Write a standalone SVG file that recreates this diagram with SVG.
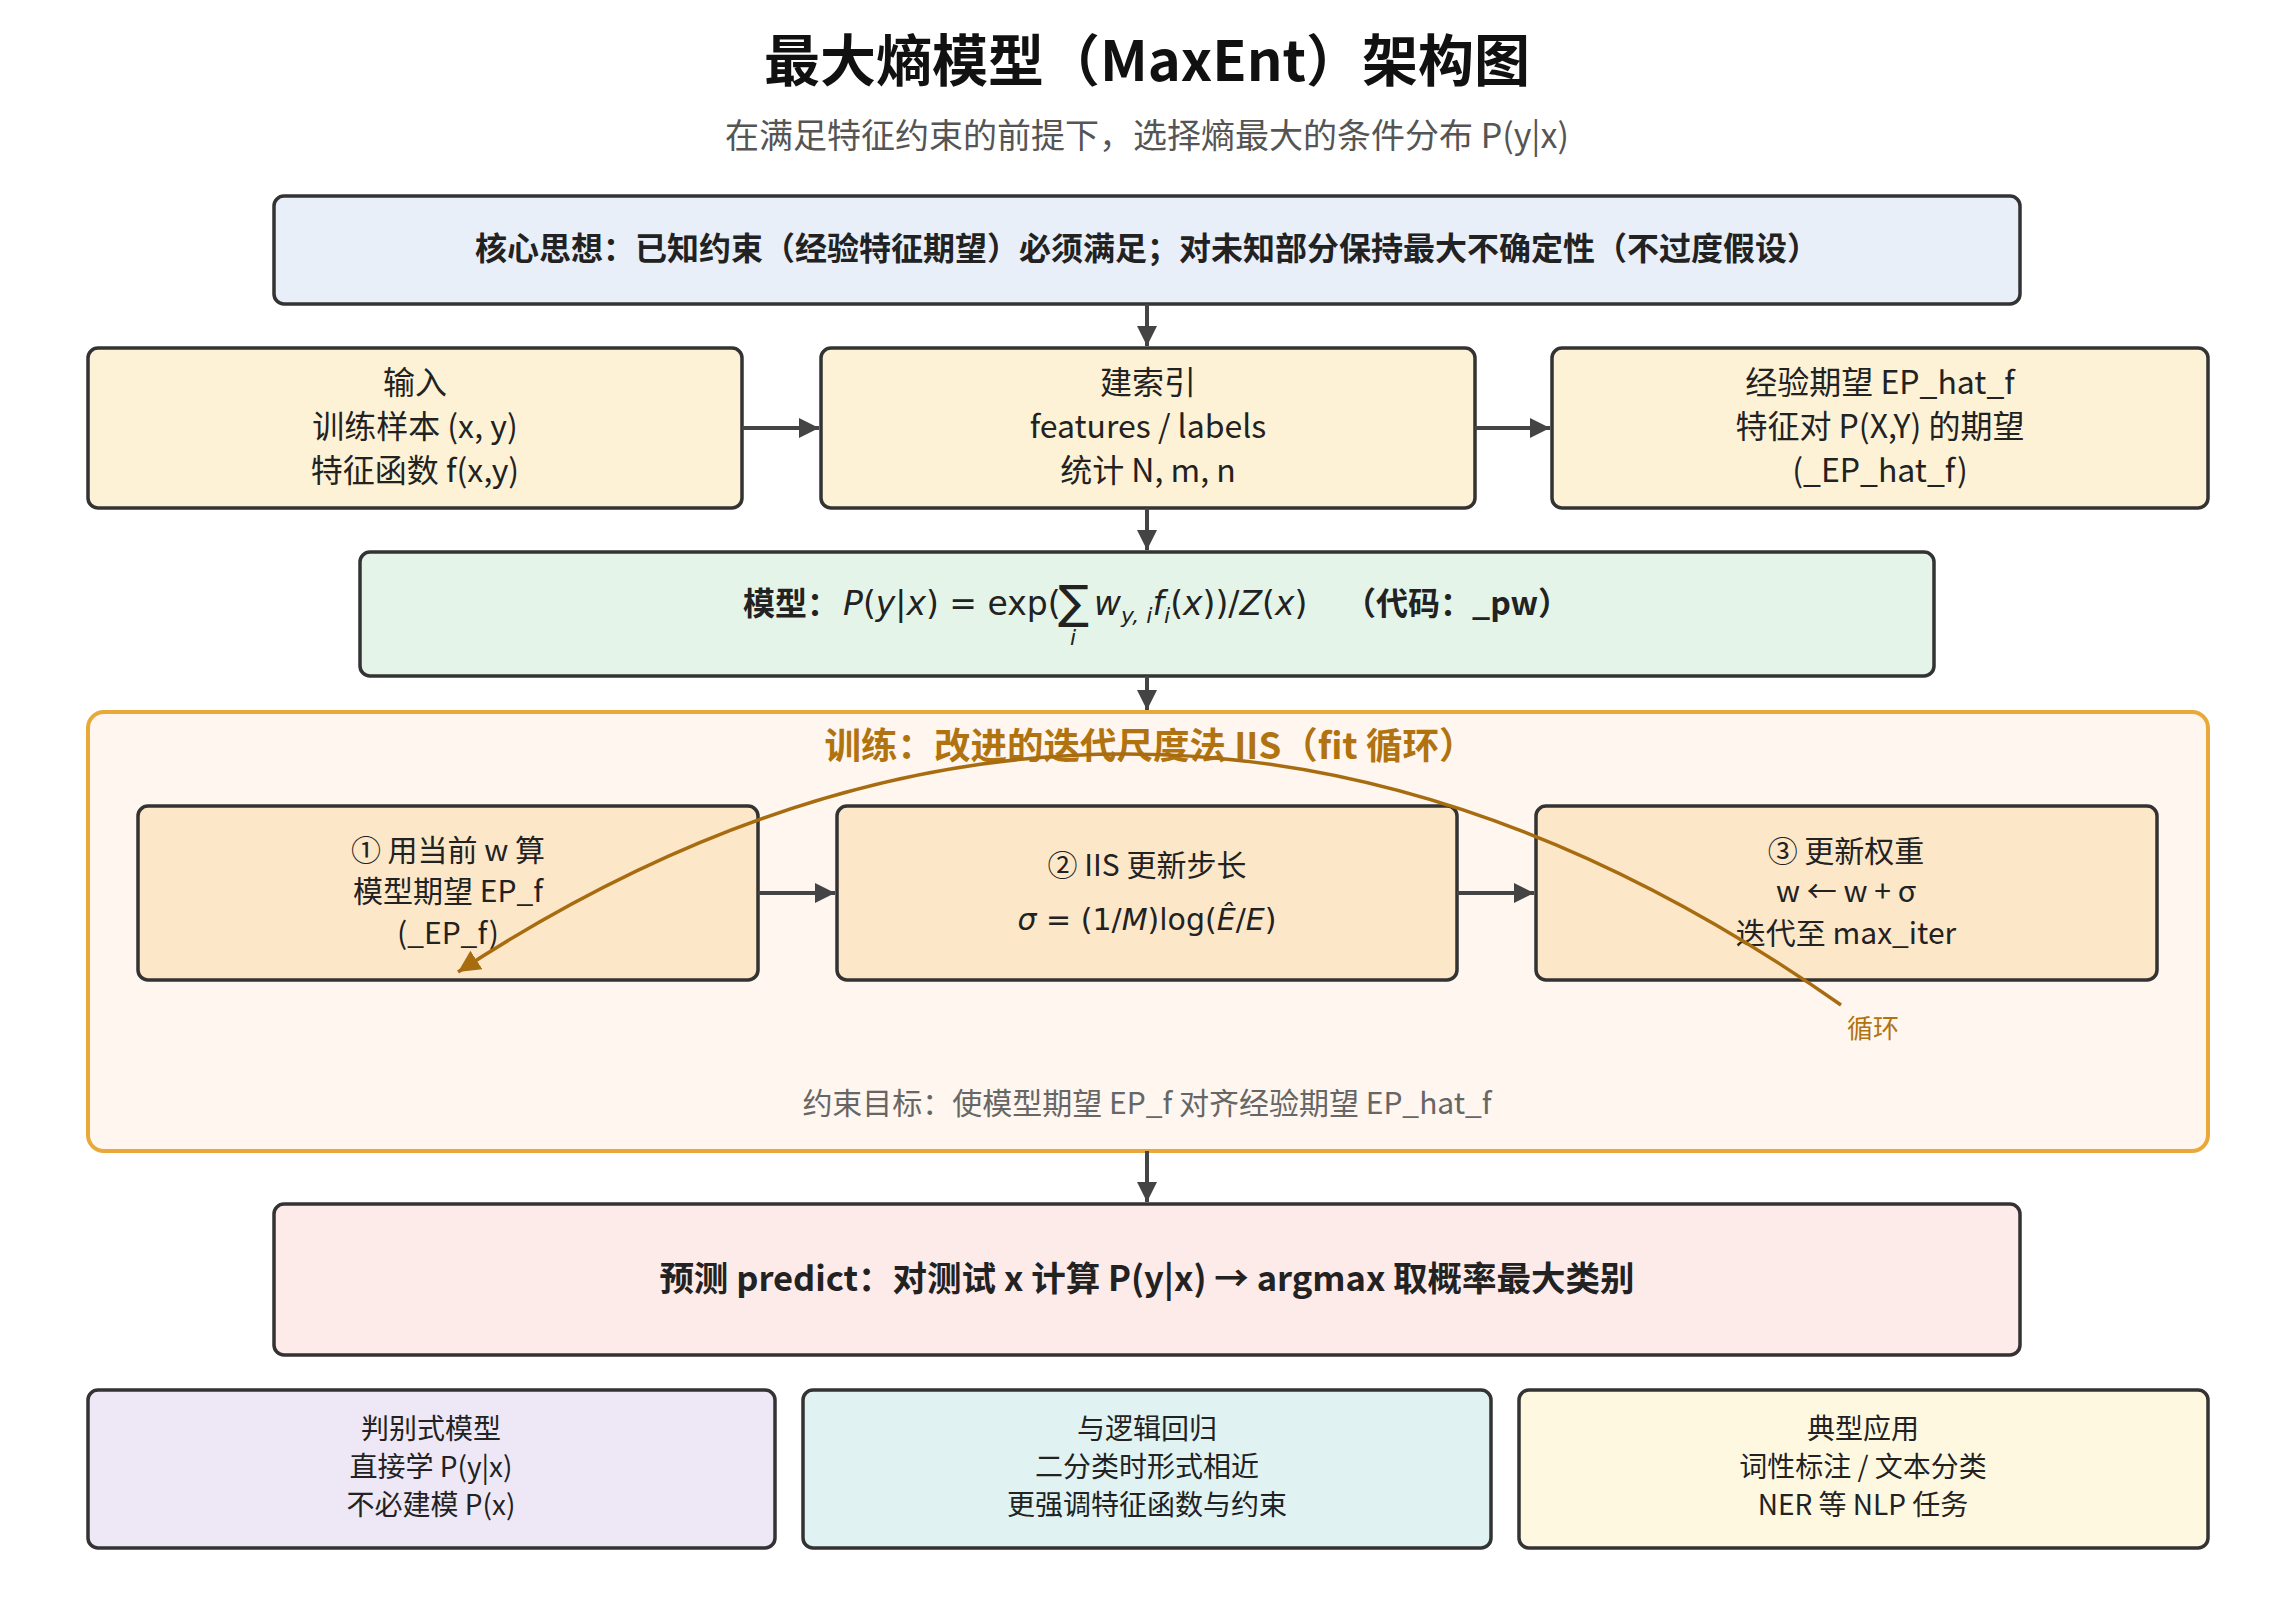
<svg xmlns="http://www.w3.org/2000/svg" width="2294" height="1602" viewBox="0 0 2294 1602">
<defs>
<style>
text{font-family:"Noto Sans CJK SC","Noto Sans",sans-serif;fill:#222}
.title{font-size:56px;font-weight:700;fill:#111}
.sub{font-size:34px;fill:#555}
.box{stroke:#333;stroke-width:3.5}
.b32{font-size:32px}
.bold{font-weight:700}
.s30{font-size:30px}
.s28{font-size:28px}
.math{font-family:"DejaVu Sans",sans-serif}
.it{font-style:italic}
.conn{stroke:#444;stroke-width:4;fill:none}
</style>
<marker id="ah" viewBox="0 0 10 10" refX="10" refY="5" markerWidth="20" markerHeight="20" markerUnits="userSpaceOnUse" orient="auto">
<path d="M0,0 L10,5 L0,10 z" fill="#444"/>
</marker>
<marker id="ahb" viewBox="0 0 10 10" refX="10" refY="5" markerWidth="22" markerHeight="22" markerUnits="userSpaceOnUse" orient="auto">
<path d="M0,0 L10,5 L0,10 z" fill="#A86C10"/>
</marker>
</defs>
<rect width="2294" height="1602" fill="#ffffff"/>

<g id="header">
<text class="title" x="1147" y="81" text-anchor="middle">最大熵模型（MaxEnt）架构图</text>
<text class="sub" x="1147" y="148" text-anchor="middle">在满足特征约束的前提下，选择熵最大的条件分布 P(y|x)</text>
</g>

<g id="core">
<rect class="box" x="274" y="196" width="1746" height="108" rx="10" fill="#E8EFF9"/>
<text class="b32 bold" x="1147" y="260" text-anchor="middle">核心思想：已知约束（经验特征期望）必须满足；对未知部分保持最大不确定性（不过度假设）</text>
</g>

<g id="input">
<rect class="box" x="88" y="348" width="654" height="160" rx="10" fill="#FDF2D6"/>
<text class="b32" x="415" y="394" text-anchor="middle">输入</text>
<text class="b32" x="415" y="438" text-anchor="middle">训练样本 (x, y)</text>
<text class="b32" x="415" y="482" text-anchor="middle">特征函数 f(x,y)</text>
</g>

<g id="index">
<rect class="box" x="821" y="348" width="654" height="160" rx="10" fill="#FDF2D6"/>
<text class="b32" x="1148" y="394" text-anchor="middle">建索引</text>
<text class="b32" x="1148" y="438" text-anchor="middle">features / labels</text>
<text class="b32" x="1148" y="482" text-anchor="middle">统计 N, m, n</text>
</g>

<g id="empirical">
<rect class="box" x="1552" y="348" width="656" height="160" rx="10" fill="#FDF2D6"/>
<text class="b32" x="1880" y="394" text-anchor="middle">经验期望 EP_hat_f</text>
<text class="b32" x="1880" y="438" text-anchor="middle">特征对 P(X,Y) 的期望</text>
<text class="b32" x="1880" y="482" text-anchor="middle">(_EP_hat_f)</text>
</g>

<g id="model">
<rect class="box" x="360" y="552" width="1574" height="124" rx="10" fill="#E5F4E8"/>
<text class="b32 bold" x="743" y="615">模型：</text>
<text class="math" font-size="33" x="843" y="615"><tspan class="it">P</tspan>(<tspan class="it">y</tspan>|<tspan class="it">x</tspan>) = exp(</text>
<text class="math" font-size="46" x="1058" y="618">∑</text>
<text class="math it" font-size="22" x="1070" y="645">i</text>
<text class="math" font-size="33" x="1094" y="615"><tspan class="it">w</tspan><tspan class="it" font-size="22" dy="8">y, i</tspan><tspan class="it" dy="-8">f</tspan><tspan class="it" font-size="22" dy="8">i</tspan><tspan dy="-8">(</tspan><tspan class="it">x</tspan>))/<tspan class="it">Z</tspan>(<tspan class="it">x</tspan>)</text>
<text class="b32 bold" x="1344" y="615">（代码：_pw）</text>
</g>

<g id="training">
<rect x="88" y="712" width="2120" height="439" rx="16" fill="#FEF6EF" stroke="#E8A93A" stroke-width="4"/>
<text x="1150" y="759" text-anchor="middle" font-size="36.5" font-weight="700" style="fill:#B0730F">训练：改进的迭代尺度法 IIS（fit 循环）</text>
<text class="s30" x="1147" y="1114" text-anchor="middle" style="fill:#666">约束目标：使模型期望 EP_f 对齐经验期望 EP_hat_f</text>
</g>

<g id="step1">
<rect class="box" x="138" y="806" width="620" height="174" rx="10" fill="#FDE7C9"/>
<text class="s30" x="448" y="861" text-anchor="middle">① 用当前 w 算</text>
<text class="s30" x="448" y="902" text-anchor="middle">模型期望 EP_f</text>
<text class="s30" x="448" y="944" text-anchor="middle">(_EP_f)</text>
</g>

<g id="step2">
<rect class="box" x="837" y="806" width="620" height="174" rx="10" fill="#FDE7C9"/>
<text class="s30" x="1147" y="876" text-anchor="middle">② IIS 更新步长</text>
<text class="math" font-size="30" x="1147" y="930" text-anchor="middle"><tspan class="it">σ</tspan> = (1/<tspan class="it">M</tspan>)log(<tspan class="it">Ê</tspan>/<tspan class="it">E</tspan>)</text>
</g>

<g id="step3">
<rect class="box" x="1536" y="806" width="621" height="174" rx="10" fill="#FDE7C9"/>
<text class="s30" x="1846" y="862" text-anchor="middle">③ 更新权重</text>
<text class="s30" x="1846" y="902" text-anchor="middle">w ← w + σ</text>
<text class="s30" x="1846" y="944" text-anchor="middle">迭代至 max_iter</text>
</g>

<g id="predict">
<rect class="box" x="274" y="1204" width="1746" height="151" rx="10" fill="#FDEBEA"/>
<text class="bold" font-size="34.5" x="1147" y="1291" text-anchor="middle">预测 predict：对测试 x 计算 P(y|x) → argmax 取概率最大类别</text>
</g>

<g id="discriminative">
<rect class="box" x="88" y="1390" width="687" height="158" rx="10" fill="#EDE7F6"/>
<text class="s28" x="431" y="1439" text-anchor="middle">判别式模型</text>
<text class="s28" x="431" y="1477" text-anchor="middle">直接学 P(y|x)</text>
<text class="s28" x="431" y="1515" text-anchor="middle">不必建模 P(x)</text>
</g>

<g id="logistic">
<rect class="box" x="803" y="1390" width="688" height="158" rx="10" fill="#E0F2F1"/>
<text class="s28" x="1147" y="1439" text-anchor="middle">与逻辑回归</text>
<text class="s28" x="1147" y="1477" text-anchor="middle">二分类时形式相近</text>
<text class="s28" x="1147" y="1515" text-anchor="middle">更强调特征函数与约束</text>
</g>

<g id="applications">
<rect class="box" x="1519" y="1390" width="689" height="158" rx="10" fill="#FFF8E1"/>
<text class="s28" x="1863" y="1439" text-anchor="middle">典型应用</text>
<text class="s28" x="1863" y="1477" text-anchor="middle">词性标注 / 文本分类</text>
<text class="s28" x="1863" y="1515" text-anchor="middle">NER 等 NLP 任务</text>
</g>

<g id="connectors">
<line class="conn" x1="1147" y1="304" x2="1147" y2="346" marker-end="url(#ah)"/>
<line class="conn" x1="742" y1="428" x2="819" y2="428" marker-end="url(#ah)"/>
<line class="conn" x1="1475" y1="428" x2="1550" y2="428" marker-end="url(#ah)"/>
<line class="conn" x1="1147" y1="508" x2="1147" y2="550" marker-end="url(#ah)"/>
<line class="conn" x1="1147" y1="676" x2="1147" y2="710" marker-end="url(#ah)"/>
<line class="conn" x1="758" y1="893" x2="835" y2="893" marker-end="url(#ah)"/>
<line class="conn" x1="1457" y1="893" x2="1534" y2="893" marker-end="url(#ah)"/>
<line class="conn" x1="1147" y1="1151" x2="1147" y2="1202" marker-end="url(#ah)"/>
<path d="M1841,1005 Q1150,520 458,972" fill="none" stroke="#A86C10" stroke-width="3.5" marker-end="url(#ahb)"/>
<text x="1873" y="1038" text-anchor="middle" font-size="26" style="fill:#B0730F">循环</text>
</g>
</svg>
